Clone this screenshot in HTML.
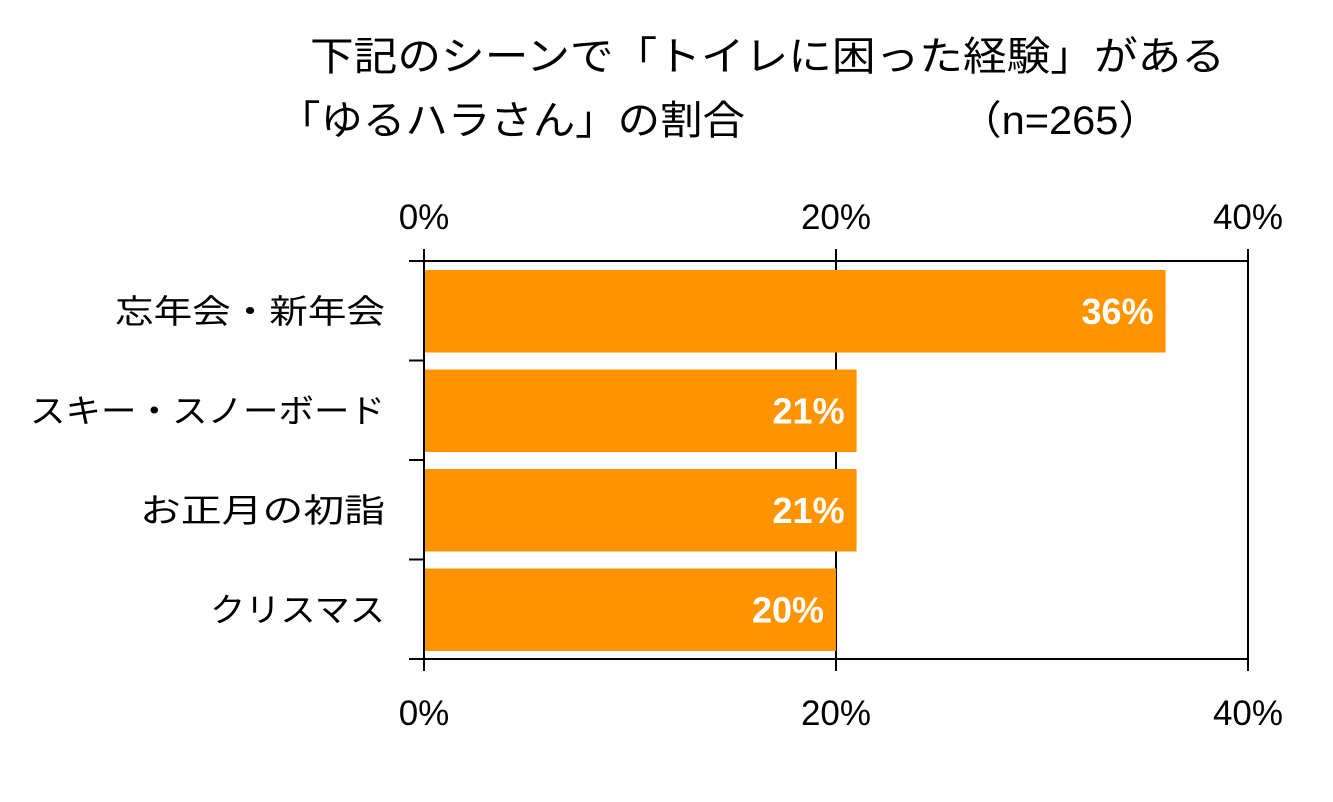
<!DOCTYPE html>
<html><head><meta charset="utf-8"><style>
body{margin:0;background:#fff;}
svg{display:block;font-family:"Liberation Sans","Noto Sans CJK JP",sans-serif;}
</style></head><body>
<svg width="1333" height="802" id="c">
<text x="310" y="70" font-size="40" textLength="915" lengthAdjust="spacingAndGlyphs">下記のシーンで「トイレに困った経験」がある</text>
<text x="278" y="134" font-size="40" textLength="467" lengthAdjust="spacingAndGlyphs">「ゆるハラさん」の割合</text>
<text x="960" y="134" font-size="40" textLength="200" lengthAdjust="spacingAndGlyphs">（n=265）</text>
</svg>
<script>
const categories=["忘年会・新年会","スキー・スノーボード","お正月の初詣","クリスマス"];
const values=[36,21,21,20];
const valueLabels=["36%","21%","21%","20%"];
const ticks=[0,20,40];
const tickLabels=["0%","20%","40%"];
const labelWidths=[270,355,245,175];
const svg=document.getElementById('c');
const NS="http://www.w3.org/2000/svg";
const x0=424,x1=1248,yTop=261,yBot=659,xMax=40;
const xs=v=>x0+(v/xMax)*(x1-x0);
const band=(yBot-yTop)/categories.length;
function mk(t,a,txt){const e=document.createElementNS(NS,t);for(const k in a)e.setAttribute(k,a[k]);if(txt!==undefined)e.textContent=txt;svg.appendChild(e);return e;}
ticks.forEach((t,i)=>{
 const x=xs(t);
 const g=mk('line',{x1:x,x2:x,y1:yTop,y2:yBot,stroke:'#000','stroke-width':2});
 
 
});
categories.forEach((c,i)=>{
 const y=yTop+i*band;
 const r=mk('rect',{x:x0,y:y+9,width:xs(values[i])-x0,height:band-17,fill:'#FF9400'});
 
 
 const v=mk('text',{x:xs(values[i])-12,y:y+band/2+13,'font-size':36,'font-weight':'bold',fill:'#fff','text-anchor':'end'},valueLabels[i]);
 
 
 const l=mk('text',{x:385-labelWidths[i],y:y+band/2+12,'font-size':33,textLength:labelWidths[i],lengthAdjust:'spacingAndGlyphs'},c);
 
 
});
for(let i=0;i<=categories.length;i++){
 const y=yTop+i*band;
 const t=mk('line',{x1:409,x2:x0,y1:y,y2:y,stroke:'#000','stroke-width':2});
 
 
}
const frame=[[x0,yTop,x1,yTop],[x0,yBot,x1,yBot],[x0,yTop-12,x0,yBot+12],[x1,yTop-12,x1,yBot+12]];
frame.forEach(f=>{const e=mk('line',{x1:f[0],y1:f[1],x2:f[2],y2:f[3],stroke:'#000','stroke-width':2});
 
 });
ticks.forEach((t,i)=>{
 const x=xs(t);
 const a=mk('line',{x1:x,x2:x,y1:yTop-12,y2:yTop,stroke:'#000','stroke-width':2});
 
 
 const b=mk('line',{x1:x,x2:x,y1:yBot,y2:yBot+12,stroke:'#000','stroke-width':2});
 
 
 const tt=mk('text',{x:x,y:229,'font-size':35,'text-anchor':'middle'},tickLabels[i]);
 
 
 const bt=mk('text',{x:x,y:725,'font-size':35,'text-anchor':'middle'},tickLabels[i]);
 
 
});
</script>
</body></html>
